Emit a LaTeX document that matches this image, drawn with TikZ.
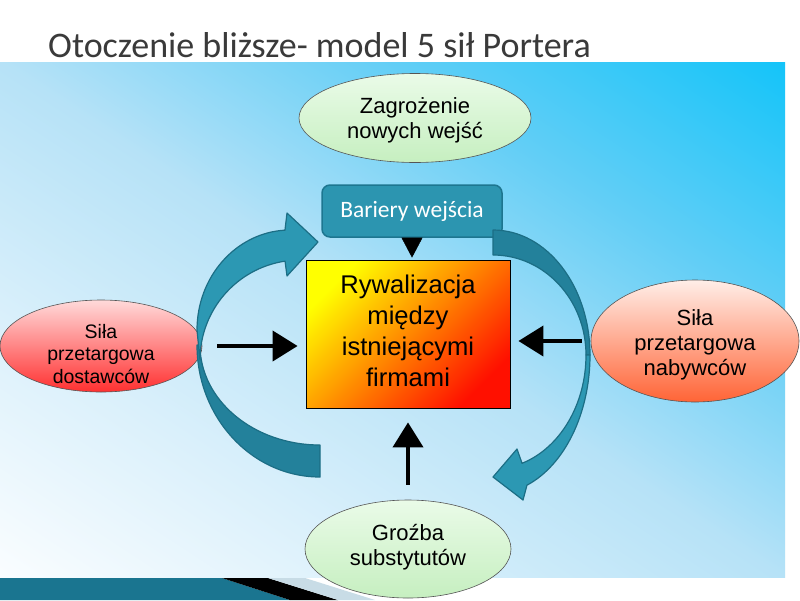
\documentclass[tikz,border=0pt]{standalone}
\usepackage{fontspec}
\setmainfont{Liberation Sans}
\newfontfamily\titlefont{Carlito}
\usetikzlibrary{shapes.geometric,arrows.meta,calc}
\definecolor{skyA}{HTML}{FAFDFF}
\definecolor{skyB}{HTML}{DAF0FB}
\definecolor{skyC}{HTML}{B6E2F7}
\definecolor{skyD}{HTML}{62CEF6}
\definecolor{skyE}{HTML}{14C4F9}
\pgfdeclareverticalshading{skyshade}{100bp}{color(0bp)=(skyA); color(25bp)=(skyA); color(37.5bp)=(skyB); color(50bp)=(skyC); color(62.5bp)=(skyD); color(75bp)=(skyE); color(100bp)=(skyE)}
\definecolor{titlegray}{HTML}{3A3A3A}
\definecolor{ellline}{HTML}{555555}
\definecolor{greentop}{HTML}{EAFBE8}
\definecolor{greenbot}{HTML}{C6EFC0}
\definecolor{redtop}{HTML}{FFDADA}
\definecolor{redbot}{HTML}{FF3030}
\definecolor{peachtop}{HTML}{FFEEE8}
\definecolor{peachbot}{HTML}{FF6436}
\definecolor{barfill}{HTML}{2C95B0}
\definecolor{barline}{HTML}{1D7690}
\definecolor{tealfront}{HTML}{2C98B3}
\definecolor{tealback}{HTML}{23819B}
\definecolor{tealline}{HTML}{1C6E85}
\definecolor{banddark}{HTML}{1A7590}
\definecolor{bandlight}{HTML}{52B4D4}
\definecolor{bandgray}{HTML}{C8DCE6}
\begin{document}
\begin{tikzpicture}[x=1pt,y=1pt,
  force/.style={ellipse, draw=ellline, line width=0.6pt, inner sep=0pt},
  greenforce/.style={force, top color=greentop, bottom color=greenbot},
  forcetext/.style={align=center, inner sep=0pt, font=\fontsize{22}{25}\selectfont},
  blackarrow/.style={line width=4pt, -{Triangle[length=25pt,width=30pt]}},
  curvefront/.style={fill=tealfront, draw=tealline, line width=1.2pt, line join=round},
  curveback/.style={fill=tealback, draw=tealline, line width=1.2pt, line join=round}]
\useasboundingbox (0,0) rectangle (800,-600);
\fill[white] (0,0) rectangle (800,-600);
% background panel
\begin{scope}
\clip (0,-62) rectangle (785,-577);
\shade[shading=skyshade, transform canvas={rotate around={-33.3:(392.5,-319.5)}}] (-77.5,-750.2) rectangle (862.5,111.2);
\end{scope}
% bottom band
\shade[left color=banddark, middle color=bandlight, right color=banddark] (0,-578) -- (222,-578) -- (290,-600) -- (0,-600) -- cycle;
\fill[black] (222,-578) -- (268,-578) -- (338,-600) -- (290,-600) -- cycle;
\fill[bandgray] (268,-578) -- (305,-578) -- (375,-600) -- (338,-600) -- cycle;
% title
\node[anchor=base west, inner sep=0pt, text=titlegray, font=\titlefont\fontsize{36}{42}\selectfont] (title) at (48,-57) {Otoczenie bliższe- model 5 sił Portera};
% ellipses
\node[greenforce, minimum width=232pt, minimum height=89pt] (nowe) at (415,-118) {};
\node[forcetext] (nowetxt) at ($(nowe)+(0,-2.5)$) {Zagrożenie\\nowych wejść};
\node[greenforce, minimum width=206pt, minimum height=98pt] (subst) at (408,-549) {};
\node[forcetext] (substtxt) at ($(subst)+(0,2)$) {Groźba\\substytutów};
\node[force, minimum width=202pt, minimum height=92pt, top color=redtop, bottom color=redbot] (dost) at (101,-346) {};
\node[forcetext, font=\fontsize{19.5}{22.5}\selectfont] (dosttxt) at ($(dost)+(0,-8)$) {Siła\\przetargowa\\dostawców};
\node[force, minimum width=208pt, minimum height=122pt, top color=peachtop, bottom color=peachbot] (nab) at (695,-341) {};
\node[forcetext] (nabtxt) at ($(nab)+(0,-4)$) {Siła\\przetargowa\\nabywców};
% central box
\node[draw=black, line width=0.8pt, minimum width=204pt, minimum height=148pt, inner sep=0pt,
  top color=yellow, middle color={rgb,255:red,255;green,176;blue,0}, bottom color={rgb,255:red,255;green,16;blue,0}, shading angle=45] (riv) at (408,-334) {};
\node[forcetext, font=\fontsize{25.6}{31}\selectfont] (rivtxt) at ($(riv)+(0,3)$) {Rywalizacja\\między\\istniejącymi\\firmami};
% barriers box
\node[rounded corners=8pt, fill=barfill, draw=barline, line width=1.5pt, minimum width=180pt, minimum height=52pt, inner sep=0pt,
  text=white, font=\titlefont\fontsize{23.5}{26}\selectfont] (bar) at (412,-211) {Bariery wejścia};
% left curved arrow
\coordinate (L) at (320,-345);
\coordinate (L1) at (290,-330);
\coordinate (L2) at (300,-360);
\path[curveback] ($(L)+(270:123 and 132)$) arc[start angle=270, end angle=180, x radius=123, y radius=132]
  -- ($(L)+(180:120 and 100)$) arc[start angle=180, end angle=270, x radius=120, y radius=100] -- cycle;
\path[curvefront] ($(L1)+(180:93 and 100)$) arc[start angle=180, end angle=93.1, x radius=93, y radius=100]
  -- (287,-213) -- (318,-242) -- (287,-276)
  -- ($(L2)+(98.6:100 and 100)$) arc[start angle=98.6, end angle=180, x radius=100, y radius=100] -- cycle;
% right curved arrow
\coordinate (R) at (493,-355);
\path[curveback] ($(R)+(90:97 and 125)$) arc[start angle=90, end angle=0, x radius=97, y radius=125]
  -- ($(R)+(0:93 and 100)$) arc[start angle=0, end angle=90, x radius=93, y radius=100] -- cycle;
\path[curvefront] ($(R)+(0:97 and 139)$) arc[start angle=0, end angle=-69.5, x radius=97, y radius=139]
  -- (523,-500) -- (493,-477) -- (517,-449)
  -- ($(R)+(-71.8:93 and 114)$) arc[start angle=-71.8, end angle=0, x radius=93, y radius=114] -- cycle;
% straight arrows
\draw[blackarrow, shorten <=15pt, shorten >=8pt] (dost.east) -- (dost.east -| riv.west);
\draw[blackarrow, shorten <=9pt, shorten >=8pt] (nab.west) -- (nab.west -| riv.east);
\draw[blackarrow, shorten <=15pt, shorten >=14pt] (subst.north) -- (subst.north |- riv.south);
\draw[line width=0.4pt, -{Triangle[length=20pt,width=21pt]}, shorten >=2pt] (bar.south) -- (bar.south |- riv.north);
\end{tikzpicture}
\end{document}
